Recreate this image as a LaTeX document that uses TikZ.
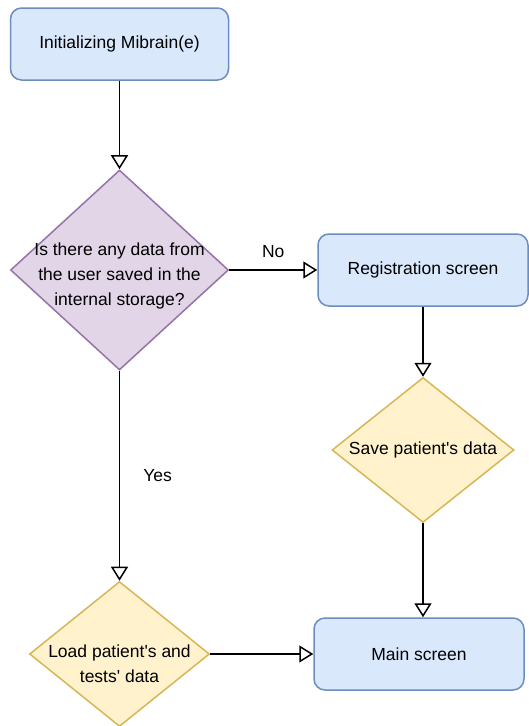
\documentclass[tikz,border=0pt]{standalone}
\usepackage{fontspec}
\setmainfont{Liberation Sans}
\usetikzlibrary{positioning, arrows.meta, shapes.geometric}
\definecolor{boxblue}{HTML}{DAE8FC}
\definecolor{lineblue}{HTML}{6C8EBF}
\definecolor{boxpurple}{HTML}{E1D5E7}
\definecolor{linepurple}{HTML}{9673A6}
\definecolor{boxyellow}{HTML}{FFF2CC}
\definecolor{lineyellow}{HTML}{D6B656}

\begin{document}
\begin{tikzpicture}[x=1pt, y=-1pt,
    caption/.style={font=\fontsize{17.5}{25}\selectfont, align=center, inner sep=0pt},
    screen/.style={caption, draw=lineblue, fill=boxblue, line width=1.5pt,
      rounded corners=11pt, minimum width=210pt, minimum height=72pt},
    decision/.style={diamond, line width=1.5pt, inner sep=0pt},
    flow/.style={line width=1.5pt, -{Triangle[open, length=14pt, width=17pt]}}
  ]
  \useasboundingbox (0,0) rectangle (529,726);
  % boxes
  \node[screen, minimum width=218pt] (init) at (119.5,44) {Initializing Mibrain(e)};
  \node[decision, draw=linepurple, fill=boxpurple,
    minimum width=218pt, minimum height=200pt] (query) at (119.5,270) {};
  \node[caption] (querytext) at ([yshift=-6pt]query.center)
    {Is there any data from\\the user saved in the\\internal storage?};
  \node[screen] (reg) at (423,270) {Registration screen};
  \node[decision, draw=lineyellow, fill=boxyellow,
    minimum width=182pt, minimum height=145pt] (save) at (423,450) {};
  \node[caption] (savetext) at (save.center) {Save patient\textquotesingle s data};
  \node[decision, draw=lineyellow, fill=boxyellow,
    minimum width=180pt, minimum height=145pt] (load) at (119.5,654) {};
  \node[caption] (loadtext) at ([yshift=-10pt]load.center)
    {Load patient\textquotesingle s and\\tests\textquotesingle\ data};
  \node[screen] (main) at (419,654) {Main screen};
  % connectors
  \draw[flow] (init) -- (query);
  \draw[flow] (query) -- node[caption, above=12pt] {No} (reg);
  \draw[flow] (query) -- node[caption, right=23pt] {Yes} (load);
  \draw[flow] (reg) -- (save);
  \draw[flow] (save) -- (save |- main.north);
  \draw[flow] (load) -- (main);
\end{tikzpicture}
\end{document}
